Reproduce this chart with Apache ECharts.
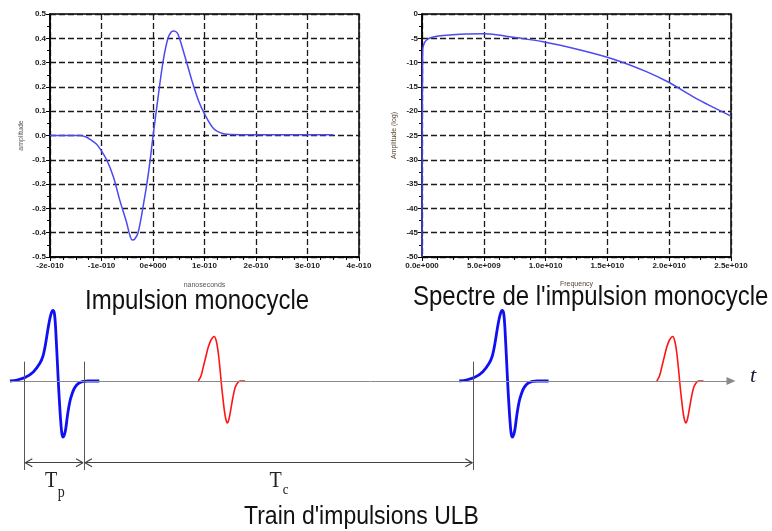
<!DOCTYPE html>
<html>
<head>
<meta charset="utf-8">
<script src="https://cdn.jsdelivr.net/npm/echarts@6/dist/echarts.min.js"></script>
<style>
html,body{margin:0;padding:0;background:#fff;}
#chart{width:772px;height:531px;}
</style>
</head>
<body>
<div id="chart"></div>
<script>
// ---------- Data ----------
// Monocycle pulse: time in units of 1e-10 s, amplitude
const pulseTime = [-2,-1.6,-1.42,-1.3,-1.22,-1.1,-1.03,-0.9,-0.77,-0.64,-0.51,-0.45,-0.40,-0.35,-0.29,-0.19,-0.09,0,0.1,0.2,0.29,0.35,0.39,0.44,0.49,0.62,0.75,0.88,1.01,1.17,1.3,1.49,2,3,3.5];
const pulseAmp  = [0,0,0,-0.006,-0.016,-0.035,-0.054,-0.10,-0.17,-0.27,-0.36,-0.41,-0.43,-0.425,-0.40,-0.29,-0.157,-0.005,0.16,0.31,0.40,0.425,0.43,0.428,0.415,0.325,0.23,0.145,0.085,0.03,0.012,0.004,0.003,0.003,0.003];
const timeTickLabels = ['-2e-010','-1e-010','0e+000','1e-010','2e-010','3e-010','4e-010'];

// Spectrum: frequency in units of 1e9 Hz, amplitude (log)
const specFreq = [0,0.05,0.2,0.5,1.0,1.5,2.5,3.6,5,6,7.4,9.8,12.8,15.5,18.2,20,22.2,25];
const specAmp  = [-50,-7.6,-5.9,-5.1,-4.7,-4.5,-4.26,-4.1,-4.05,-4.25,-4.8,-5.7,-7.4,-9.3,-11.9,-14.1,-17.4,-21];
const freqTickLabels = ['0.0e+000','5.0e+009','1.0e+010','1.5e+010','2.0e+010','2.5e+010'];

// Pulse train (arbitrary time units): shapes relative to pulse start
const blueShapeT = [0,7,15,23.3,30,33,35,37,38.3,40,41.7,43,44.3,45.3,46.3,47.5,48.7,49.7,50.7,51.8,53,54.3,55.7,57,58.3,60,61.7,64,66.7,70,73.3,78,89.3];
const blueShapeA = [0,1,3.4,9,18,25,34,46,54,63,69,70.5,68,58,40,16,-8,-25,-40,-52,-56,-54,-48,-38,-29,-20,-14,-8,-4,-1.5,-0.3,0,0];
const redShapeT = [0,2.7,5,7.7,10,12.7,16,18.2,20,21.7,23.4,24.7,26,27.5,29,30.7,32.4,34.5,36.7,39.2,41.7,46.7];
const redShapeA = [0,5,14,25,34,41,44.5,39,28,12,-6,-18,-29,-38,-42,-38,-29,-17,-7,-2,0,0];
const bluePulseStarts = [10, 459.3];
const redPulseStarts = [198.3, 656.8];
const trainAxisStart = 10, trainAxisEnd = 731;
const markerTimes = [24.3, 84, 473.3];   // Tp start, Tp end / Tc start, Tc end
const dimLevel = -81.7;

// ---------- Chart ----------
const chart = echarts.init(document.getElementById('chart'), null, {renderer:'canvas'});
const tickFont = {fontSize:8, fontWeight:'bold', color:'#222', fontFamily:'Liberation Sans, Arial, sans-serif'};
const gridLine = {show:true, lineStyle:{color:'#1a1a1a', type:[6,3], width:1.3}};
function zip(a,b){return a.map((v,i)=>[v,b[i]]);}
function pulse(shT, shA, start){return shT.map((t,i)=>[t+start, shA[i]]);}

// open chevron arrowheads for the two dimension arrows (derived from marker times)
const headLen = 7, headHalf = 4;
function chevronAt(t, dir){ // dir=+1 points right, -1 points left
  return [[t - dir*headLen, dimLevel + headHalf], [t, dimLevel], [t - dir*headLen, dimLevel - headHalf], null];
}
const chevronData = [].concat(
  chevronAt(markerTimes[0]+1, -1), chevronAt(markerTimes[1]-1, 1),
  chevronAt(markerTimes[1]+1, -1), chevronAt(markerTimes[2]-1, 1)
);

const series = [
  {type:'line', xAxisIndex:0, yAxisIndex:0, data:zip(pulseTime,pulseAmp), smooth:0.35,
   showSymbol:false, lineStyle:{color:'#4a4af2', width:1.5}, z:5},
  {type:'line', xAxisIndex:1, yAxisIndex:1, data:zip(specFreq,specAmp), smooth:0.25,
   showSymbol:false, lineStyle:{color:'#4a4af2', width:1.5}, z:5},
  // baseline with arrow
  {type:'line', xAxisIndex:2, yAxisIndex:2, data:[], z:1,
   markLine:{silent:true, animation:false, symbol:['none','triangle'], symbolSize:[8,9],
     lineStyle:{color:'#8a8a8a', width:1, type:'solid'}, label:{show:false},
     data:[[{coord:[trainAxisStart,0]},{coord:[trainAxisEnd,0]}]]}},
  // vertical markers
  {type:'line', xAxisIndex:2, yAxisIndex:2, data:[], z:2,
   markLine:{silent:true, animation:false, symbol:['none','none'],
     lineStyle:{color:'#555', width:1, type:'solid'}, label:{show:false},
     data:markerTimes.map(t=>[{coord:[t,19.3]},{coord:[t,-89]}])}},
  // dimension arrows (shafts)
  {type:'line', xAxisIndex:2, yAxisIndex:2, data:[], z:2,
   markLine:{silent:true, animation:false, symbol:['none','none'],
     lineStyle:{color:'#444', width:1.2, type:'solid'}, label:{show:false},
     data:[[{coord:[markerTimes[0]+1,dimLevel]},{coord:[markerTimes[1]-1,dimLevel]}],
           [{coord:[markerTimes[1]+1,dimLevel]},{coord:[markerTimes[2]-1,dimLevel]}]]}},
  // dimension arrow heads
  {type:'line', xAxisIndex:2, yAxisIndex:2, data:chevronData, connectNulls:false, showSymbol:false,
   lineStyle:{color:'#444', width:1.2}, z:2}
];
bluePulseStarts.forEach(s=>series.push({type:'line', xAxisIndex:2, yAxisIndex:2, data:pulse(blueShapeT,blueShapeA,s),
  smooth:0.3, showSymbol:false, lineStyle:{color:'#1010f5', width:2.8}, z:4}));
redPulseStarts.forEach(s=>series.push({type:'line', xAxisIndex:2, yAxisIndex:2, data:pulse(redShapeT,redShapeA,s),
  smooth:0.3, showSymbol:false, lineStyle:{color:'#ff1414', width:1.6}, z:4}));

const option = {
  animation:false,
  backgroundColor:'#fff',
  grid:[
    {left:50, top:14, width:309, height:243, show:true, borderColor:'#000', borderWidth:1.5},
    {left:422, top:14, width:309, height:243, show:true, borderColor:'#000', borderWidth:1.5},
    {left:0, top:291, width:772, height:180, show:false}
  ],
  xAxis:[
    {type:'value', gridIndex:0, min:-2, max:4, interval:1, name:'nanoseconds', nameLocation:'middle', nameGap:25,
     nameTextStyle:{fontSize:7, color:'#555', fontFamily:'Liberation Sans, Arial'},
     axisLine:{onZero:false, lineStyle:{color:'#000', width:1.5}},
     axisTick:{show:true, length:4, lineStyle:{color:'#000'}},
     minorTick:{show:true, splitNumber:4, length:3, lineStyle:{color:'#000'}},
     axisLabel:Object.assign({margin:5, formatter:v=>timeTickLabels[Math.round(v+2)]}, tickFont),
     splitLine:gridLine},
    {type:'value', gridIndex:1, min:0, max:25, interval:5, name:'Frequency', nameLocation:'middle', nameGap:24,
     nameTextStyle:{fontSize:7, color:'#5a4530', fontFamily:'Liberation Sans, Arial'},
     axisLine:{onZero:false, lineStyle:{color:'#000', width:1.5}},
     axisTick:{show:true, length:4, lineStyle:{color:'#000'}},
     minorTick:{show:true, splitNumber:4, length:3, lineStyle:{color:'#000'}},
     axisLabel:Object.assign({margin:5, formatter:v=>freqTickLabels[Math.round(v/5)]}, tickFont),
     splitLine:gridLine},
    {type:'value', gridIndex:2, min:0, max:772, show:false}
  ],
  yAxis:[
    {type:'value', gridIndex:0, min:-0.5, max:0.5, interval:0.1, name:'amplitude', nameLocation:'middle', nameGap:25, nameRotate:90,
     nameTextStyle:{fontSize:7, color:'#555', fontFamily:'Liberation Sans, Arial'},
     axisLine:{onZero:false, lineStyle:{color:'#000', width:1.5}},
     axisTick:{show:true, length:4, lineStyle:{color:'#000'}},
     minorTick:{show:true, splitNumber:2, length:3, lineStyle:{color:'#000'}},
     axisLabel:Object.assign({margin:4, formatter:v=>v.toFixed(1)}, tickFont),
     splitLine:gridLine},
    {type:'value', gridIndex:1, min:-50, max:0, interval:5, name:'Amplitude (log)', nameLocation:'middle', nameGap:24, nameRotate:90,
     nameTextStyle:{fontSize:7, color:'#5a4530', fontFamily:'Liberation Sans, Arial'},
     axisLine:{onZero:false, lineStyle:{color:'#000', width:1.5}},
     axisTick:{show:true, length:4, lineStyle:{color:'#000'}},
     minorTick:{show:true, splitNumber:2, length:3, lineStyle:{color:'#000'}},
     axisLabel:Object.assign({margin:4, formatter:v=>String(Math.round(v))}, tickFont),
     splitLine:gridLine},
    {type:'value', gridIndex:2, min:-90, max:90, show:false}
  ],
  series:series
};
chart.setOption(option);

// ---------- Text annotations ----------
const px = (x,y)=>chart.convertToPixel({gridIndex:2}, [x,y]);
const sans = 'Liberation Sans, Arial, sans-serif';
const serif = 'Liberation Serif, Times New Roman, serif';
const tpMid = px((markerTimes[0]+markerTimes[1])/2, -100);
const tcMid = px((markerTimes[1]+markerTimes[2])/2, -100);
const tPos = px(trainAxisEnd+22, 5);
function txt(x,y,text,font,color,align,sy){
  return {type:'text', x:x, y:y, scaleY:sy||1, silent:true,
    style:{text:text, font:font, fill:color, align:align||'left', verticalAlign:'middle'}};
}
chart.setOption({graphic:[
  txt(85, 302, 'Impulsion monocycle', '24px '+sans, '#111', 'left', 1.12),
  txt(413, 298, "Spectre de l'impulsion monocycle", '24px '+sans, '#111', 'left', 1.12),
  txt(244, 517, "Train d'impulsions ULB", '23px '+sans, '#111', 'left', 1.12),
  txt(tpMid[0]-3, 481, 'T', '20px '+serif, '#222', 'center', 1.2),
  txt(tpMid[0]+7, 493, 'p', '14px '+serif, '#222', 'center', 1.15),
  txt(tcMid[0]-3, 481, 'T', '20px '+serif, '#222', 'center', 1.2),
  txt(tcMid[0]+7, 490, 'c', '13px '+serif, '#222', 'center', 1.15),
  txt(tPos[0], tPos[1], 't', 'italic 22px '+serif, '#1a1a40', 'center', 1)
]});
</script>
</body>
</html>
